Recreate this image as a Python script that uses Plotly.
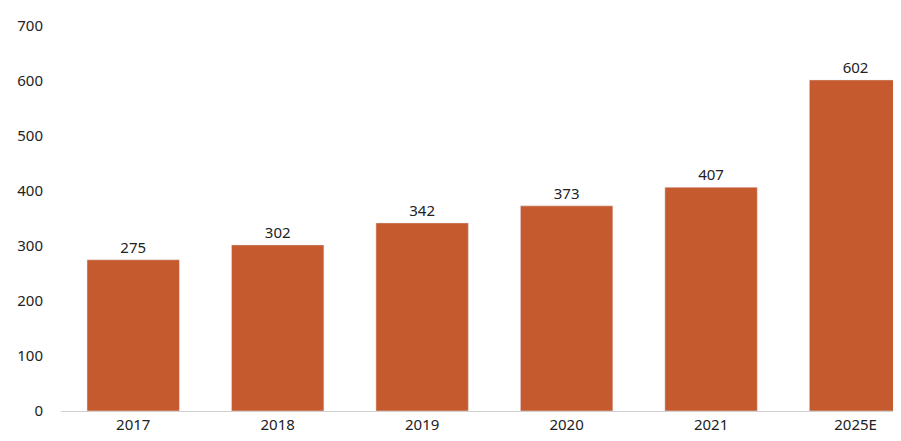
import plotly.graph_objects as go

years = ["2017", "2018", "2019", "2020", "2021", "2025E"]
values = [275, 302, 342, 373, 407, 602]

fig = go.Figure(
    go.Bar(
        x=years,
        y=values,
        text=values,
        textposition="outside",
        marker_color="#C55A2E",
        width=0.64,
        cliponaxis=False,
        textfont=dict(size=15, color="#222"),
    )
)
fig.update_layout(
    width=901,
    height=441,
    margin=dict(l=53, r=0, t=18, b=38, autoexpand=False),
    plot_bgcolor="white",
    paper_bgcolor="white",
    font=dict(family="Noto Sans", size=15, color="#222"),
    showlegend=False,
    xaxis=dict(showline=True, linecolor="#d0d0d0", linewidth=1, ticks="",
               range=[-0.5, 5.37]),
    yaxis=dict(range=[0, 700], dtick=100, showgrid=False, zeroline=False,
               ticks="outside", ticklen=14, tickcolor="white"),
)
fig.write_html("out.html")
